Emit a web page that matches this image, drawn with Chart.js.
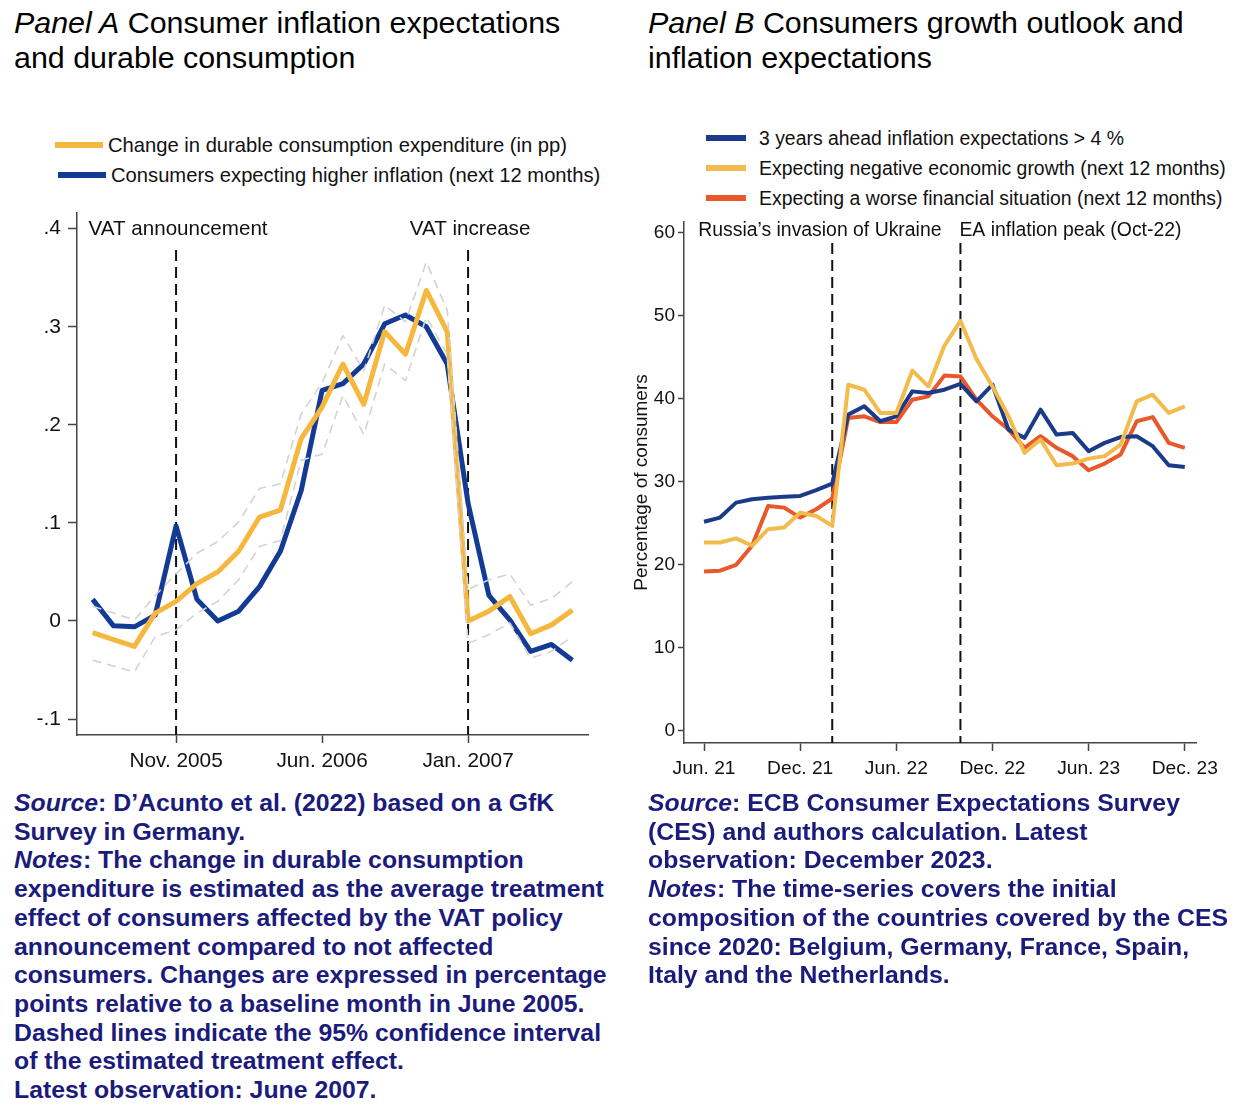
<!DOCTYPE html>
<html>
<head>
<meta charset="utf-8">
<script src="https://cdn.jsdelivr.net/npm/chart.js@4.4.1/dist/chart.umd.min.js"></script>
<style>
  body { margin: 0; background: #fff; font-family: "Liberation Sans", Arial, sans-serif; }
  #page { position: relative; width: 1240px; height: 1110px; overflow: hidden; }
  .title { position: absolute; top: 5px; font-size: 30.4px; line-height: 35px; color: #000; white-space: nowrap; }
  .legend { position: absolute; color: #111; white-space: nowrap; }
  .legend .row { position: relative; height: 30px; }
  .legend .sw { position: absolute; height: 6px; }
  .legend .tx { position: absolute; top: 0; line-height: 30px; }
  .notes { position: absolute; top: 789px; font-size: 24.8px; line-height: 28.7px; font-weight: bold; color: #1b1b7c; white-space: nowrap; }
  canvas { position: absolute; }
</style>
</head>
<body>
<div id="page">
  <div class="title" style="left:14px"><i>Panel A</i> Consumer inflation expectations<br>and durable consumption</div>
  <div class="title" style="left:648px"><i>Panel B</i> Consumers growth outlook and<br>inflation expectations</div>
  <div class="legend" id="legendA" style="left:0; top:130px; font-size:20.2px"></div>
  <div class="legend" id="legendB" style="left:620px; top:123px; font-size:19.4px"></div>
  <canvas id="chartA" width="610" height="580" style="left:0; top:200px"></canvas>
  <canvas id="chartB" width="620" height="590" style="left:620px; top:200px"></canvas>
  <div class="notes" style="left:14px">
    <i>Source</i>: D’Acunto et al. (2022) based on a GfK<br>
    Survey in Germany.<br>
    <i>Notes</i>: The change in durable consumption<br>
    expenditure is estimated as the average treatment<br>
    effect of consumers affected by the VAT policy<br>
    announcement compared to not affected<br>
    consumers. Changes are expressed in percentage<br>
    points relative to a baseline month in June 2005.<br>
    Dashed lines indicate the 95% confidence interval<br>
    of the estimated treatment effect.<br>
    Latest observation: June 2007.
  </div>
  <div class="notes" style="left:648px">
    <i>Source</i>: ECB Consumer Expectations Survey<br>
    (CES) and authors calculation. Latest<br>
    observation: December 2023.<br>
    <i>Notes</i>: The time-series covers the initial<br>
    composition of the countries covered by the CES<br>
    since 2020: Belgium, Germany, France, Spain,<br>
    Italy and the Netherlands.
  </div>
</div>
<script>
// Panel A: monthly, Jul 2005 - Jun 2007 (index 0 = Jul 2005)
const durableChange = [-0.012, -0.019, -0.026, 0.008, 0.020, 0.038, 0.050, 0.071, 0.106, 0.113, 0.186, 0.218,
  0.262, 0.221, 0.295, 0.272, 0.337, 0.295, 0.000, 0.010, 0.025, -0.013, -0.004, 0.011];
const higherInflation = [0.022, -0.005, -0.006, 0.006, 0.097, 0.022, 0.000, 0.010, 0.035, 0.071, 0.133, 0.235,
  0.242, 0.262, 0.303, 0.312, 0.300, 0.262, 0.120, 0.026, 0.001, -0.031, -0.024, -0.040];
const ciUpper = [0.015, 0.008, 0.001, 0.026, 0.048, 0.069, 0.081, 0.101, 0.135, 0.140, 0.211, 0.243,
  0.291, 0.255, 0.322, 0.305, 0.366, 0.317, 0.032, 0.042, 0.048, 0.016, 0.023, 0.040];
const ciLower = [-0.040, -0.046, -0.052, -0.016, -0.009, 0.008, 0.020, 0.042, 0.076, 0.082, 0.164, 0.170,
  0.230, 0.190, 0.262, 0.245, 0.310, 0.272, -0.023, -0.014, -0.002, -0.038, -0.031, -0.016];
const tickPosA = [4, 11, 18];
const tickLabelsA = ["Nov. 2005", "Jun. 2006", "Jan. 2007"];
const yTicksA = [-0.1, 0, 0.1, 0.2, 0.3, 0.4];
const yTickLabelsA = ["-.1", "0", ".1", ".2", ".3", ".4"];
const seriesNamesA = ["Change in durable consumption expenditure (in pp)", "Consumers expecting higher inflation (next 12 months)"];

// Panel B: monthly, Jun 2021 - Dec 2023 (index 0 = Jun 2021)
const inflAbove4 = [25.2, 25.7, 27.5, 27.9, 28.1, 28.2, 28.3, 29.0, 29.8, 38.1, 39.1, 37.3, 37.9, 40.9, 40.7, 41.1,
  41.8, 39.7, 41.7, 36.3, 35.3, 38.7, 35.7, 35.9, 33.7, 34.7, 35.4, 35.5, 34.3, 32.0, 31.8];
const negGrowth = [22.7, 22.7, 23.2, 22.3, 24.3, 24.5, 26.3, 25.9, 24.7, 41.7, 41.1, 38.3, 38.3, 43.4, 41.5, 46.4,
  49.4, 44.8, 41.5, 37.9, 33.5, 35.1, 32.0, 32.2, 32.8, 33.1, 34.5, 39.7, 40.5, 38.3, 39.1];
const worseFinance = [19.2, 19.3, 20.0, 22.3, 27.1, 26.9, 25.7, 26.7, 28.0, 37.7, 37.9, 37.2, 37.2, 39.9, 40.3, 42.8,
  42.7, 39.9, 37.9, 36.3, 34.1, 35.5, 34.1, 33.1, 31.4, 32.2, 33.3, 37.3, 37.8, 34.7, 34.1];
const tickPosB = [0, 6, 12, 18, 24, 30];
const tickLabelsB = ["Jun. 21", "Dec. 21", "Jun. 22", "Dec. 22", "Jun. 23", "Dec. 23"];
const yTicksB = [0, 10, 20, 30, 40, 50, 60];
const seriesNamesB = ["3 years ahead inflation expectations > 4 %", "Expecting negative economic growth (next 12 months)", "Expecting a worse financial situation (next 12 months)"];

const FONT = "'Liberation Sans', Arial, sans-serif";
const AXIS = "#444";

function pts(arr) {
  return arr.map((v, i) => ({ x: i, y: v }));
}

// fixed axis width, and no extra label padding pushing the plot area down
function fixWidth(w) {
  return function (scale) {
    scale.width = w;
    scale.paddingTop = 0;
    scale.paddingBottom = 0;
  };
}

// dashed vertical event markers with their labels
const eventLines = {
  id: "eventLines",
  beforeDatasetsDraw(chart, args, opts) {
    const { ctx, chartArea, scales } = chart;
    ctx.save();
    opts.lines.forEach((l) => {
      const x = scales.x.getPixelForValue(l.at);
      ctx.strokeStyle = "#111";
      ctx.lineWidth = 2;
      ctx.setLineDash([11, 6]);
      ctx.beginPath();
      ctx.moveTo(x, opts.top);
      ctx.lineTo(x, chartArea.bottom);
      ctx.stroke();
      ctx.setLineDash([]);
      ctx.font = opts.font;
      ctx.fillStyle = "#111";
      ctx.textAlign = l.align;
      ctx.textBaseline = "middle";
      ctx.fillText(l.text, x + l.dx, opts.labelY);
    });
    ctx.restore();
  },
};

function buildLegend(el, names, colors, swatches) {
  names.forEach((name, i) => {
    const row = document.createElement("div");
    row.className = "row";
    const sw = document.createElement("div");
    sw.className = "sw";
    sw.style.background = colors[i];
    sw.style.left = swatches[i][0] + "px";
    sw.style.width = swatches[i][1] + "px";
    sw.style.top = "12px";
    const tx = document.createElement("div");
    tx.className = "tx";
    tx.style.left = swatches[i][2] + "px";
    tx.textContent = name;
    row.appendChild(sw);
    row.appendChild(tx);
    el.appendChild(row);
  });
}

const colorsA = ["#f5b73e", "#133a95"];
const colorsB = ["#1b3a8a", "#f2bc4c", "#e8582b"];
buildLegend(document.getElementById("legendA"), seriesNamesA, colorsA, [[55, 48, 108], [58, 48, 111]]);
buildLegend(document.getElementById("legendB"), seriesNamesB, colorsB, [[86, 40, 139], [86, 40, 139], [86, 40, 139]]);

new Chart(document.getElementById("chartA"), {
  type: "line",
  data: {
    datasets: [
      { data: pts(ciUpper), borderColor: "#d3d3d3", borderWidth: 1.6, borderDash: [9, 6] },
      { data: pts(ciLower), borderColor: "#d3d3d3", borderWidth: 1.6, borderDash: [9, 6] },
      { data: pts(durableChange), borderColor: colorsA[0], borderWidth: 5 },
      { data: pts(higherInflation), borderColor: colorsA[1], borderWidth: 5 },
    ],
  },
  options: {
    responsive: false,
    animation: false,
    elements: { point: { radius: 0 }, line: { tension: 0, borderJoinStyle: "round" } },
    layout: { padding: { left: 0, right: 22, top: 13, bottom: 0 } },
    plugins: {
      legend: { display: false },
      tooltip: { enabled: false },
      eventLines: {
        top: 50,
        labelY: 29,
        font: "20.6px " + FONT,
        lines: [
          { at: 4, text: "VAT announcement", align: "center", dx: 2 },
          { at: 18, text: "VAT increase", align: "center", dx: 2 },
        ],
      },
    },
    scales: {
      x: {
        type: "linear",
        min: -0.75,
        max: 23.75,
        afterFit(scale) { scale.height = 45; },
        afterBuildTicks(scale) { scale.ticks = tickPosA.map((v) => ({ value: v })); },
        ticks: {
          autoSkip: false,
          maxRotation: 0,
          padding: 6,
          color: "#111",
          font: { family: FONT, size: 20.8 },
          callback: (v) => tickLabelsA[tickPosA.indexOf(v)],
        },
        grid: { drawOnChartArea: false, drawTicks: true, tickLength: 8, tickColor: AXIS, tickWidth: 1.5 },
        border: { display: true, color: AXIS, width: 1.5 },
      },
      y: {
        min: -0.1163,
        max: 0.416,
        afterFit: fixWidth(77),
        afterBuildTicks(scale) { scale.ticks = yTicksA.map((v) => ({ value: v })); },
        ticks: {
          padding: 7,
          color: "#111",
          font: { family: FONT, size: 21 },
          callback: (v) => yTickLabelsA[yTicksA.findIndex((t) => Math.abs(t - v) < 1e-9)],
        },
        grid: { drawOnChartArea: false, drawTicks: true, tickLength: 9, tickColor: AXIS, tickWidth: 1.5 },
        border: { display: true, color: AXIS, width: 1.5 },
      },
    },
  },
  plugins: [eventLines],
});

new Chart(document.getElementById("chartB"), {
  type: "line",
  data: {
    datasets: [
      { data: pts(negGrowth), borderColor: colorsB[1], borderWidth: 4 },
      { data: pts(inflAbove4), borderColor: colorsB[0], borderWidth: 4 },
      { data: pts(worseFinance), borderColor: colorsB[2], borderWidth: 4 },
    ],
  },
  options: {
    responsive: false,
    animation: false,
    elements: { point: { radius: 0 }, line: { tension: 0, borderJoinStyle: "round" } },
    layout: { padding: { left: 0, right: 44, top: 22, bottom: 0 } },
    plugins: {
      legend: { display: false },
      tooltip: { enabled: false },
      eventLines: {
        top: 43,
        labelY: 31,
        font: "19.4px " + FONT,
        lines: [
          { at: 8, text: "Russia’s invasion of Ukraine", align: "left", dx: -134 },
          { at: 16, text: "EA inflation peak (Oct-22)", align: "left", dx: -1 },
        ],
      },
    },
    scales: {
      x: {
        type: "linear",
        min: -1.25,
        max: 30.7,
        afterFit(scale) { scale.height = 47; },
        afterBuildTicks(scale) { scale.ticks = tickPosB.map((v) => ({ value: v })); },
        ticks: {
          autoSkip: false,
          maxRotation: 0,
          padding: 6,
          color: "#111",
          font: { family: FONT, size: 19.2 },
          callback: (v) => tickLabelsB[tickPosB.indexOf(v)],
        },
        grid: { drawOnChartArea: false, drawTicks: true, tickLength: 8, tickColor: AXIS, tickWidth: 1.5 },
        border: { display: true, color: AXIS, width: 1.5 },
      },
      y: {
        min: -1.45,
        max: 61.3,
        afterFit: fixWidth(64),
        afterBuildTicks(scale) { scale.ticks = yTicksB.map((v) => ({ value: v })); },
        title: {
          display: true,
          text: "Percentage of consumers",
          color: "#111",
          font: { family: FONT, size: 19 },
          padding: { top: 10, bottom: 0 },
        },
        ticks: {
          padding: 3,
          color: "#111",
          font: { family: FONT, size: 19 },
        },
        grid: { drawOnChartArea: false, drawTicks: true, tickLength: 6, tickColor: AXIS, tickWidth: 1.5 },
        border: { display: true, color: AXIS, width: 1.5 },
      },
    },
  },
  plugins: [eventLines],
});
</script>
</body>
</html>
